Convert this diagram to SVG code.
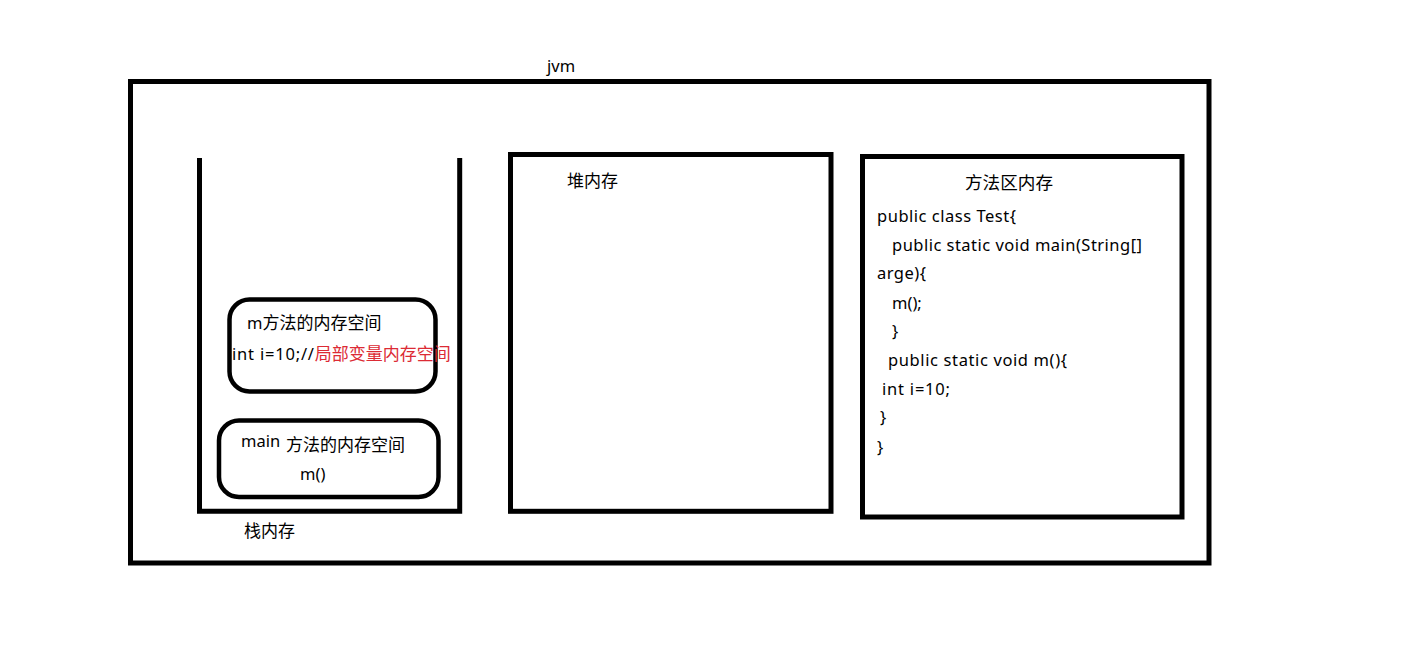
<svg xmlns="http://www.w3.org/2000/svg" width="1422" height="658" viewBox="0 0 1422 658">
<style>
.box{fill:none;stroke:#000;stroke-width:5}
.rbox{fill:none;stroke:#000;stroke-width:4.5}
text{font-family:"Noto Sans","Noto Sans CJK SC",sans-serif;font-size:16.5px;fill:#000}
.cjk{font-size:17px}
.red{fill:#dc2b35}
</style>
<rect width="1422" height="658" fill="#fff"/>
<g id="jvm">
<rect class="box" x="130.5" y="81.5" width="1078.5" height="481.5"/>
<text x="547" y="72">jvm</text>
</g>
<g id="stack">
<path class="box" d="M199.5 158 V511.3 H459.7 V158"/>
<text class="cjk" x="244" y="537">栈内存</text>
</g>
<g id="m-frame">
<rect class="rbox" x="229.5" y="299.5" width="206" height="92" rx="20"/>
<text x="247" y="329">m<tspan class="cjk">方法的内存空间</tspan></text>
<text x="232" y="360"><tspan textLength="82">int i=10;//</tspan><tspan class="cjk red">局部变量内存空间</tspan></text>
</g>
<g id="main-frame">
<rect class="rbox" x="219" y="420.5" width="219.5" height="76.5" rx="20"/>
<text x="241" y="447">main</text>
<text class="cjk" x="286" y="451">方法的内存空间</text>
<text x="300" y="480">m()</text>
</g>
<g id="heap">
<rect class="box" x="510.5" y="154.5" width="320.5" height="356.8"/>
<text class="cjk" x="567" y="187">堆内存</text>
</g>
<g id="method-area">
<rect class="box" x="862.5" y="156.5" width="319.5" height="360.5"/>
<text class="cjk" x="965" y="189" style="font-size:17.6px">方法区内存</text>
<text x="877" y="222" textLength="139">public class Test{</text>
<text x="892" y="251" textLength="250">public static void main(String[]</text>
<text x="877" y="279" textLength="49">arge){</text>
<text x="892" y="309">m();</text>
<text x="892" y="337">}</text>
<text x="888" y="366" textLength="179">public static void m(){</text>
<text x="882" y="395" textLength="68">int i=10;</text>
<text x="880" y="423">}</text>
<text x="877" y="453">}</text>
</g>
<g id="connectors"></g>
</svg>
